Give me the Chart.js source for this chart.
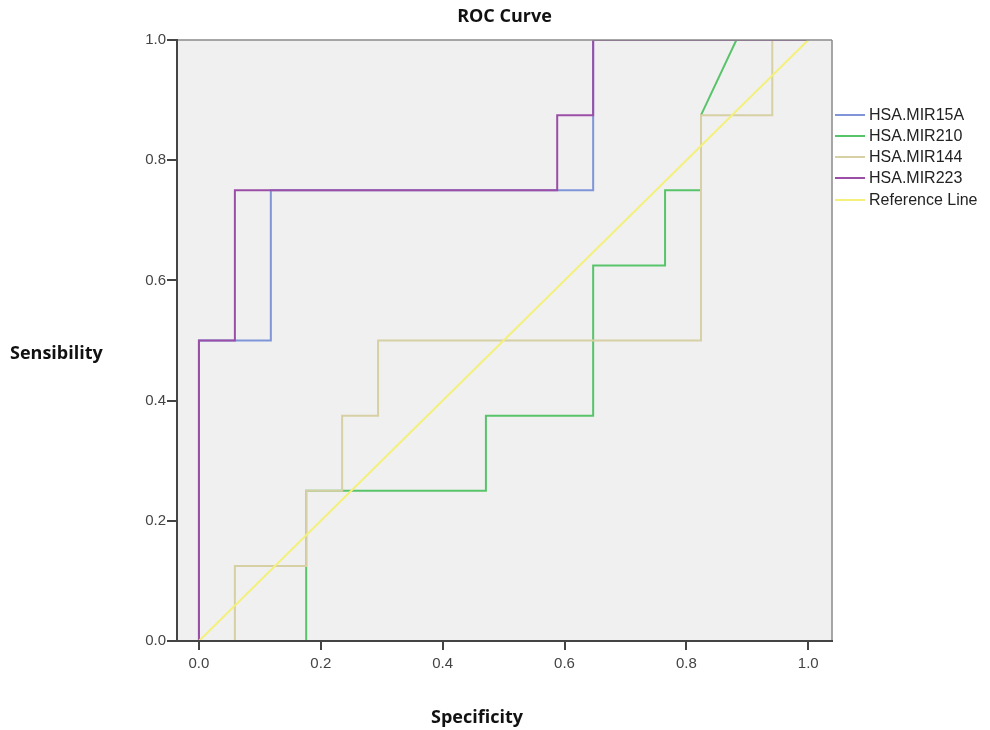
<!DOCTYPE html>
<html>
<head>
<meta charset="utf-8">
<script src="https://cdn.jsdelivr.net/npm/chart.js@4/dist/chart.umd.min.js"></script>
<style>
  html, body { margin: 0; padding: 0; background: #ffffff; }
  #wrap { width: 990px; height: 730px; }
</style>
</head>
<body>
<div id="wrap"><canvas id="c" width="990" height="730"></canvas></div>
<script>
// ---- Data ----
const seriesNames = ["HSA.MIR15A", "HSA.MIR210", "HSA.MIR144", "HSA.MIR223", "Reference Line"];
const xTickValues = [0.0, 0.2, 0.4, 0.6, 0.8, 1.0];
const yTickValues = [0.0, 0.2, 0.4, 0.6, 0.8, 1.0];

const mir15aX = [0, 0, 0.118, 0.118, 0.647, 0.647, 1];
const mir15aY = [0, 0.5, 0.5, 0.75, 0.75, 1, 1];

const mir210X = [0, 0.176, 0.176, 0.471, 0.471, 0.647, 0.647, 0.765, 0.765, 0.824, 0.824, 0.882, 1];
const mir210Y = [0, 0, 0.25, 0.25, 0.375, 0.375, 0.625, 0.625, 0.75, 0.75, 0.875, 1, 1];

const mir144X = [0, 0.059, 0.059, 0.176, 0.176, 0.235, 0.235, 0.294, 0.294, 0.824, 0.824, 0.941, 0.941, 1];
const mir144Y = [0, 0, 0.125, 0.125, 0.25, 0.25, 0.375, 0.375, 0.5, 0.5, 0.875, 0.875, 1, 1];

const mir223X = [0, 0, 0.059, 0.059, 0.588, 0.588, 0.647, 0.647, 1];
const mir223Y = [0, 0.5, 0.5, 0.75, 0.75, 0.875, 0.875, 1, 1];

const refX = [0, 1];
const refY = [0, 1];

const seriesColors = ["#7f95d8", "#58c46a", "#d6d0a4", "#9a4ea6", "#f4f07c"];

function pts(xs, ys) { return xs.map((x, i) => ({ x: x, y: ys[i] })); }

const allX = [mir15aX, mir210X, mir144X, mir223X, refX];
const allY = [mir15aY, mir210Y, mir144Y, mir223Y, refY];
const drawOrder = [4, 3, 2, 1, 0];

const datasets = seriesNames.map((name, i) => ({
  label: name,
  data: pts(allX[i], allY[i]),
  borderColor: seriesColors[i],
  backgroundColor: seriesColors[i],
  borderWidth: 2,
  pointRadius: 0,
  showLine: true,
  fill: false,
  tension: 0,
  order: drawOrder[i]
}));

const frame = {
  id: 'frame',
  beforeDatasetsDraw(chart) {
    const a = chart.chartArea, ctx = chart.ctx;
    ctx.save();
    ctx.fillStyle = '#f0f0f0';
    ctx.fillRect(a.left, a.top, a.right - a.left, a.bottom - a.top);
    ctx.restore();
  },
  afterDatasetsDraw(chart) {
    const a = chart.chartArea, ctx = chart.ctx;
    ctx.save();
    ctx.strokeStyle = '#8a8a8a';
    ctx.lineWidth = 1.5;
    ctx.beginPath();
    ctx.moveTo(a.left, a.top); ctx.lineTo(a.right, a.top);
    ctx.moveTo(a.right, a.top); ctx.lineTo(a.right, a.bottom);
    ctx.stroke();
    ctx.strokeStyle = '#444444';
    ctx.lineWidth = 2;
    ctx.beginPath();
    ctx.moveTo(a.left, a.top - 1); ctx.lineTo(a.left, a.bottom + 1);
    ctx.moveTo(a.left - 1, a.bottom); ctx.lineTo(a.right + 1, a.bottom);
    ctx.stroke();
    ctx.restore();
  },
  afterDraw(chart) {
    const ctx = chart.ctx, a = chart.chartArea;
    ctx.save();
    // titles
    ctx.fillStyle = '#111111';
    ctx.font = 'bold 18px "Open Sans", "DejaVu Sans", sans-serif';
    ctx.textBaseline = 'middle';
    ctx.textAlign = 'center';
    ctx.fillText('ROC Curve', (a.left + a.right) / 2, 17);
    ctx.fillText('Specificity', 477, 718);
    ctx.textAlign = 'left';
    ctx.fillText('Sensibility', 10, 354);
    // legend
    ctx.font = '16px "Liberation Sans", Arial, sans-serif';
    ctx.textAlign = 'left';
    const ys = [115, 136, 157, 178, 200];
    chart.data.datasets.forEach((ds, i) => {
      ctx.strokeStyle = ds.borderColor;
      ctx.lineWidth = 2;
      ctx.beginPath();
      ctx.moveTo(835, ys[i]); ctx.lineTo(865, ys[i]);
      ctx.stroke();
      ctx.fillStyle = '#222222';
      ctx.fillText(ds.label, 869, ys[i] + 1);
    });
    ctx.restore();
  }
};

new Chart(document.getElementById('c'), {
  type: 'scatter',
  data: { datasets: datasets },
  plugins: [frame],
  options: {
    responsive: false,
    animation: false,
    devicePixelRatio: 1,
    layout: { padding: { left: 0, top: 40, right: 158, bottom: 0 } },
    plugins: { legend: { display: false }, tooltip: { enabled: false }, title: { display: false } },
    scales: {
      x: {
        type: 'linear',
        min: -0.036,
        max: 1.039,
        afterBuildTicks(s) { s.ticks = xTickValues.map(v => ({ value: v })); },
        afterFit(s) { s.height = 89; },
        border: { display: false },
        grid: { drawOnChartArea: false, drawTicks: true, tickLength: 9, color: '#444444', lineWidth: 2 },
        ticks: {
          color: '#444444',
          font: { family: '"Liberation Sans", Arial, sans-serif', size: 15 },
          padding: 5,
          maxRotation: 0,
          callback: v => Number(v).toFixed(1)
        }
      },
      y: {
        type: 'linear',
        min: 0,
        max: 1,
        afterBuildTicks(s) { s.ticks = yTickValues.map(v => ({ value: v })); },
        afterFit(s) { s.width = 177; },
        border: { display: false },
        grid: { drawOnChartArea: false, drawTicks: true, tickLength: 10, color: '#444444', lineWidth: 2 },
        ticks: {
          color: '#444444',
          font: { family: '"Liberation Sans", Arial, sans-serif', size: 15 },
          padding: 1,
          callback: v => Number(v).toFixed(1)
        }
      }
    }
  }
});
</script>
</body>
</html>
